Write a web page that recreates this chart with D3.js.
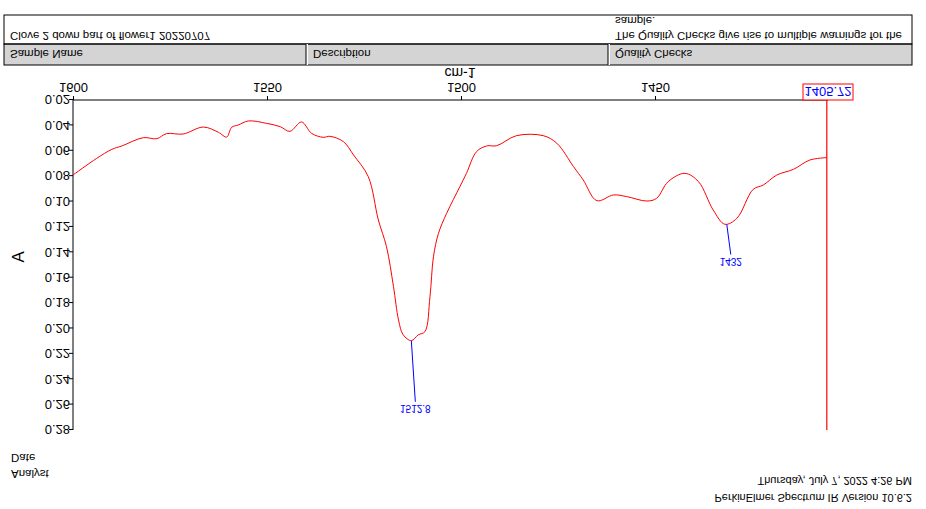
<!DOCTYPE html>
<html>
<head>
<meta charset="utf-8">
<script src="https://cdn.jsdelivr.net/npm/d3@7"></script>
<style>
  body { margin: 0; background: #fff; }
  text { font-family: "Liberation Sans", Arial, sans-serif; }
</style>
</head>
<body>
<svg id="chart" width="926" height="509"></svg>
<script>
// Spectrum (wavenumber cm-1, absorbance A)
const wavenumbers = [1600, 1593.9, 1590, 1587.4, 1581.9, 1578.4, 1575.9, 1571.6, 1566.4, 1562.5,
  1560.4, 1559.1, 1557.4, 1554.8, 1550.1, 1546.6, 1544.1, 1541.1, 1538.5, 1535.5, 1533.8,
  1530.3, 1527.7, 1523.9, 1521.3, 1519.2, 1517.4, 1516.1, 1514.9, 1512.8, 1511, 1509.3, 1508,
  1507.1, 1505.8, 1503.7, 1500.3, 1498.6, 1496, 1493.4, 1490.8, 1485.7, 1478.8, 1475.3, 1471,
  1468.5, 1465, 1460.7, 1457.3, 1452.1, 1449.6, 1446.6, 1442.3, 1438.8, 1435, 1432, 1428.9,
  1424.7, 1422.1, 1418.6, 1414.3, 1410.1, 1405.72];
const absorbance = [0.0791, 0.066, 0.0589, 0.0562, 0.0497, 0.0505, 0.0465, 0.0468, 0.0413, 0.0455,
  0.0492, 0.0415, 0.0397, 0.0365, 0.0384, 0.041, 0.0447, 0.0373, 0.0463, 0.0494, 0.0486,
  0.0528, 0.0633, 0.0804, 0.1145, 0.1356, 0.167, 0.1933, 0.205, 0.2096, 0.205, 0.2025, 0.175,
  0.1435, 0.125, 0.1093, 0.0883, 0.0778, 0.0607, 0.0562, 0.056, 0.0481, 0.0481, 0.0541, 0.0725,
  0.083, 0.0993, 0.0948, 0.0961, 0.0996, 0.0975, 0.0843, 0.0778, 0.0843, 0.1067, 0.1179, 0.1132,
  0.0904, 0.087, 0.0791, 0.0746, 0.0673, 0.0654];

const peakLabels = ["1512.8", "1432"];
const peakX = [1512.8, 1431.5];
const peakY = [0.2096, 0.1179];
const peakLabelY = [0.2625, 0.1465];

const xTicks = [1600, 1550, 1500, 1450];
const yTicks = [0.02, 0.04, 0.06, 0.08, 0.10, 0.12, 0.14, 0.16, 0.18, 0.20, 0.22, 0.24, 0.26, 0.28];
const cursorValue = 1405.72;

const headerLabels = ["Sample Name", "Description", "Quality Checks"];
const headerValues = [["Clove 2 down part of flower1 20220707"], [""],
  ["The Quality Checks give rise to multiple warnings for the", "sample."]];
const footerLeft = ["Analyst", "Date"];
const footerRight = ["Thursday, July 7, 2022 4:26 PM", "PerkinElmer Spectrum IR Version 10.6.2"];

const W = 926, H = 509;
const svg = d3.select('#chart');
// the whole printout is shown upside down
const g = svg.append('g').attr('transform', `translate(0,${H}) scale(1,-1)`);

const x = d3.scaleLinear().domain([1600, 1400]).range([73, 849]);
const y = d3.scaleLinear().domain([0.02, 0.28]).range([409, 79]);

// header table
const colX = [4, 307, 609, 912];
g.append('rect').attr('x', 4).attr('y', 444).attr('width', 908).attr('height', 21)
  .attr('fill', '#d4d4d4').attr('stroke', '#000').attr('stroke-width', 1);
g.append('rect').attr('x', 4).attr('y', 465).attr('width', 908).attr('height', 29)
  .attr('fill', 'none').attr('stroke', '#000').attr('stroke-width', 1);
colX.slice(1, 3).forEach(cx => {
  g.append('line').attr('x1', cx).attr('x2', cx).attr('y1', 444).attr('y2', 465)
    .attr('stroke', '#fff').attr('stroke-width', 2);
  g.append('line').attr('x1', cx - 1).attr('x2', cx - 1).attr('y1', 444).attr('y2', 465)
    .attr('stroke', '#000');
});
headerLabels.forEach((t, i) => {
  g.append('text').attr('x', colX[i] + 6).attr('y', 459).attr('font-size', 11.5).text(t);
});
headerValues.forEach((lines, i) => {
  lines.forEach((t, j) => {
    g.append('text').attr('x', colX[i] + 6).attr('y', 477 + j * 15).attr('font-size', 11.5).text(t);
  });
});

// axes
const xAxis = d3.axisBottom(x).tickValues(xTicks).tickFormat(d3.format('d')).tickSize(4);
const gx = g.append('g').attr('transform', 'translate(0,409)').call(xAxis);
gx.select('.domain').attr('d', 'M73,0H828');
gx.selectAll('text').attr('font-size', 13).attr('dy', '0.75em');
g.append('text').attr('x', 460).attr('y', 441).attr('text-anchor', 'middle')
  .attr('font-size', 14).text('cm-1');

const yAxis = d3.axisLeft(y).tickValues(yTicks).tickFormat(d3.format('.2f')).tickSize(4);
const gy = g.append('g').attr('transform', 'translate(73,0)').call(yAxis);
gy.selectAll('text').attr('font-size', 13).attr('x', -3);
gy.select('.domain').attr('d', 'M0,79V409');
g.append('text').attr('transform', 'translate(24,252) rotate(-90)').attr('text-anchor', 'middle')
  .attr('font-size', 17).text('A');

// spectrum
const pts = wavenumbers.map((w, i) => [w, absorbance[i]]);
g.append('path').datum(pts)
  .attr('fill', 'none').attr('stroke', '#ff0000').attr('stroke-width', 1)
  .attr('d', d3.line().x(d => x(d[0])).y(d => y(d[1])).curve(d3.curveCatmullRom));

// peak labels
peakLabels.forEach((t, i) => {
  g.append('line').attr('x1', x(peakX[i])).attr('y1', y(peakY[i]))
    .attr('x2', x(peakX[i]) + 4).attr('y2', y(peakLabelY[i]) + 6)
    .attr('stroke', '#0000ff');
  g.append('text').attr('x', x(peakX[i]) + 4).attr('y', y(peakLabelY[i]) + 3)
    .attr('text-anchor', 'middle').attr('font-size', 10).attr('fill', '#0000ff').text(t);
});

// cursor
g.append('line').attr('x1', x(cursorValue)).attr('x2', x(cursorValue)).attr('y1', 79).attr('y2', 409)
  .attr('stroke', '#ff0000').attr('stroke-width', 1.2);
g.append('rect').attr('x', 803).attr('y', 409).attr('width', 50).attr('height', 16)
  .attr('fill', '#fff').attr('stroke', '#ff0000');
g.append('text').attr('x', 828).attr('y', 422).attr('text-anchor', 'middle')
  .attr('font-size', 13).attr('fill', '#0000ff').text(cursorValue.toFixed(2));

// footer
footerLeft.forEach((t, i) => {
  g.append('text').attr('x', 11).attr('y', 39 + i * 16).attr('font-size', 11.5).text(t);
});
footerRight.forEach((t, i) => {
  g.append('text').attr('x', 912).attr('y', 32 - i * 17).attr('text-anchor', 'end')
    .attr('font-size', 11).text(t);
});
</script>
</body>
</html>
